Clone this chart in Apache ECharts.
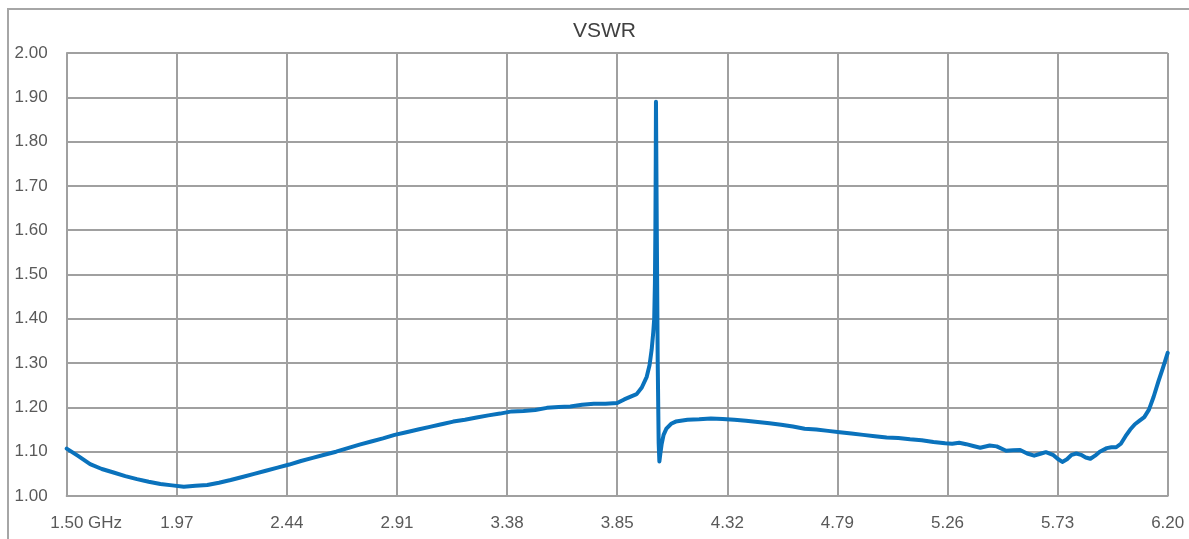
<!DOCTYPE html>
<html>
<head>
<meta charset="utf-8">
<script src="https://cdn.jsdelivr.net/npm/echarts@6/dist/echarts.min.js"></script>
<style>
html,body{margin:0;padding:0;background:#fff;}
#c{width:1189px;height:539px;}
</style>
</head>
<body>
<div id="c"></div>
<script>
const titleText = 'VSWR';
const xTickLabels = ['1.50 GHz','1.97','2.44','2.91','3.38','3.85','4.32','4.79','5.26','5.73','6.20'];
const freq = [
1.50,1.55,1.60,1.65,1.70,1.75,1.80,1.85,1.90,1.95,
2.00,2.05,2.10,2.15,2.20,2.25,2.30,2.35,2.40,2.45,
2.50,2.55,2.60,2.65,2.70,2.75,2.80,2.85,2.90,2.95,
3.00,3.05,3.10,3.15,3.20,3.25,3.30,3.35,3.40,3.45,
3.50,3.55,3.60,3.65,3.70,3.75,3.80,3.85,3.88,3.91,
3.933,3.955,3.976,3.988,3.997,4.004,4.008,4.011,4.013,4.0145,
4.0155,4.019,4.023,4.027,4.030,4.034,4.040,4.048,4.06,4.08,
4.10,4.15,4.20,4.25,4.30,4.35,4.40,4.45,4.50,4.55,
4.60,4.65,4.70,4.75,4.80,4.85,4.90,4.95,5.00,5.05,
5.10,5.15,5.20,5.25,5.28,5.31,5.34,5.37,5.40,5.44,
5.47,5.51,5.54,5.57,5.60,5.63,5.66,5.68,5.71,5.73,
5.75,5.77,5.79,5.81,5.83,5.85,5.87,5.89,5.91,5.94,
5.96,5.98,6.00,6.02,6.04,6.06,6.08,6.10,6.12,6.14,
6.16,6.18,6.20
];
const vswr = [
1.107,1.090,1.072,1.061,1.053,1.045,1.038,1.032,1.027,1.024,
1.021,1.023,1.025,1.030,1.036,1.043,1.050,1.057,1.064,1.071,
1.079,1.086,1.093,1.100,1.108,1.116,1.123,1.130,1.138,1.144,
1.150,1.156,1.162,1.168,1.172,1.177,1.182,1.186,1.191,1.192,
1.194,1.199,1.201,1.202,1.206,1.208,1.208,1.210,1.218,1.225,
1.230,1.245,1.269,1.295,1.330,1.370,1.400,1.480,1.600,1.750,
1.890,1.600,1.300,1.120,1.078,1.095,1.118,1.138,1.152,1.163,
1.168,1.172,1.173,1.175,1.174,1.172,1.170,1.167,1.164,1.161,
1.157,1.152,1.150,1.147,1.144,1.141,1.138,1.135,1.132,1.131,
1.128,1.126,1.122,1.119,1.118,1.120,1.117,1.113,1.109,1.114,
1.112,1.102,1.103,1.104,1.096,1.091,1.096,1.099,1.093,1.084,
1.077,1.083,1.093,1.096,1.093,1.087,1.084,1.091,1.100,1.108,
1.110,1.110,1.118,1.135,1.150,1.162,1.170,1.178,1.195,1.224,
1.258,1.290,1.323
];

const FONT = 'Liberation Sans, Arial, sans-serif';
const gridColor = '#a0a0a0';
const chart = echarts.init(document.getElementById('c'));
chart.setOption({
  animation: false,
  backgroundColor: '#fff',
  title: {
    text: titleText,
    left: 573, top: 21, padding: 0,
    textStyle: {fontFamily: FONT, fontSize: 21, fontWeight: 'normal', color: '#404040'}
  },
  graphic: [{
    type: 'rect', silent: true, z: -1,
    shape: {x: 8, y: 9, width: 1250, height: 600},
    style: {fill: 'none', stroke: '#a6a6a6', lineWidth: 2}
  }],
  grid: {left: 66.7, right: 21.3, top: 53, bottom: 43, containLabel: false},
  xAxis: {
    type: 'value', min: 1.5, max: 6.2, interval: 0.47,
    axisLine: {show: true, lineStyle: {color: gridColor, width: 2}},
    axisTick: {show: false},
    splitLine: {show: true, lineStyle: {color: gridColor, width: 2}},
    axisLabel: {
      margin: 19,
      showMinLabel: true, showMaxLabel: true,
      fontFamily: FONT, fontSize: 17, color: '#595959',
      formatter: function (v) {
        const i = Math.round((v - 1.5) / 0.47);
        const t = xTickLabels[i] || '';
        return i === 0 ? '{f|' + t + '}' : '{n|' + t + '}';
      },
      rich: {
        f: {fontFamily: FONT, fontSize: 17, color: '#595959', padding: [0, 0, 0, 39]},
        n: {fontFamily: FONT, fontSize: 17, color: '#595959'}
      }
    }
  },
  yAxis: {
    type: 'value', min: 1, max: 2, interval: 0.1,
    axisLine: {show: true, lineStyle: {color: gridColor, width: 2}},
    axisTick: {show: false},
    splitLine: {show: true, lineStyle: {color: gridColor, width: 2}},
    axisLabel: {
      margin: 19, fontFamily: FONT, fontSize: 17, color: '#595959',
      formatter: v => v.toFixed(2)
    }
  },
  series: [{
    type: 'line',
    data: freq.map((f, i) => [f, vswr[i]]),
    showSymbol: false,
    symbol: 'none',
    smooth: false,
    sampling: null,
    lineStyle: {color: '#0a72bc', width: 4, join: 'round', cap: 'round'},
    clip: true
  }]
});
</script>
</body>
</html>
